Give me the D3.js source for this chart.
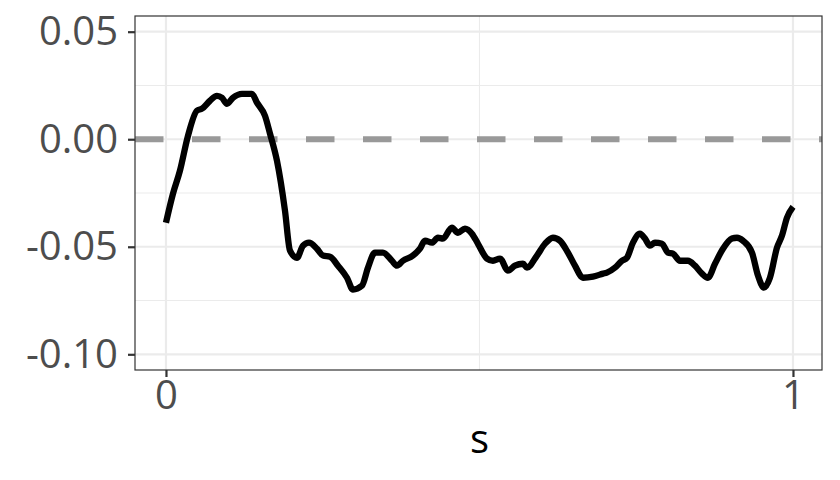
<!DOCTYPE html>
<html><head><meta charset="utf-8">
<script src="https://cdn.jsdelivr.net/npm/d3@7"></script>
<style>html,body{margin:0;padding:0;background:#fff;}</style>
</head><body>
<script>
const sValues = [0,0.0112,0.0223,0.0351,0.0494,0.0574,0.0702,0.0813,0.0893,0.0973,0.1069,0.1212,0.1372,0.1451,0.1579,0.1659,0.1770,0.1898,0.1978,0.2089,0.2185,0.2281,0.2408,0.2504,0.2616,0.2743,0.2887,0.2982,0.3126,0.3222,0.3333,0.3461,0.3604,0.3684,0.3780,0.3939,0.4051,0.4131,0.4242,0.4338,0.4418,0.4561,0.4657,0.4769,0.4880,0.4976,0.5120,0.5215,0.5327,0.5455,0.5566,0.5694,0.5758,0.5917,0.6045,0.6172,0.6284,0.6411,0.6523,0.6651,0.6810,0.6970,0.7033,0.7161,0.7273,0.7352,0.7448,0.7560,0.7640,0.7719,0.7799,0.7911,0.8006,0.8086,0.8198,0.8325,0.8437,0.8549,0.8644,0.8756,0.8884,0.9027,0.9107,0.9203,0.9346,0.9442,0.9537,0.9633,0.9745,0.9825,0.9904,1.0];
const effectValues = [-0.0388,-0.0253,-0.0146,0.0016,0.0133,0.0142,0.0179,0.0202,0.0193,0.0165,0.0193,0.0211,0.0211,0.0170,0.0109,0.0026,-0.0100,-0.0332,-0.0518,-0.0551,-0.0495,-0.0481,-0.0509,-0.0541,-0.0546,-0.0588,-0.0644,-0.0699,-0.0681,-0.0597,-0.0527,-0.0527,-0.0565,-0.0588,-0.0565,-0.0541,-0.0509,-0.0472,-0.0481,-0.0458,-0.0462,-0.0411,-0.0435,-0.0416,-0.0439,-0.0486,-0.0555,-0.0565,-0.0555,-0.0611,-0.0588,-0.0579,-0.0597,-0.0541,-0.0486,-0.0458,-0.0472,-0.0527,-0.0588,-0.0644,-0.0639,-0.0625,-0.0620,-0.0597,-0.0565,-0.0551,-0.0481,-0.0439,-0.0462,-0.0495,-0.0481,-0.0486,-0.0527,-0.0532,-0.0565,-0.0565,-0.0588,-0.0625,-0.0644,-0.0579,-0.0509,-0.0462,-0.0458,-0.0472,-0.0527,-0.0634,-0.0690,-0.0644,-0.0504,-0.0448,-0.0365,-0.0314];
const yTicks = [0.05, 0.00, -0.05, -0.10];
const yTickLabels = ["0.05", "0.00", "-0.05", "-0.10"];
const yMinor = [0.025, -0.025, -0.075];
const xTicks = [0, 1];
const xTickLabels = ["0", "1"];
const xMinor = [0.5];
const refLine = 0;
const xTitle = "s";

const W = 840, H = 480;
const P = {l: 135, r: 822, t: 16, b: 370};
const x = d3.scaleLinear().domain([-0.0494, 1.0463]).range([P.l, P.r]);
const y = d3.scaleLinear().domain([0.0573, -0.1073]).range([P.t, P.b]);

const svg = d3.select("body").append("svg").attr("width", W).attr("height", H);
svg.append("defs").append("clipPath").attr("id", "clip")
  .append("rect").attr("x", P.l).attr("y", P.t).attr("width", P.r - P.l).attr("height", P.b - P.t);

// minor grid
svg.selectAll(".ymin").data(yMinor).enter().append("line")
  .attr("x1", P.l).attr("x2", P.r).attr("y1", d => y(d)).attr("y2", d => y(d))
  .attr("stroke", "#EBEBEB").attr("stroke-width", 1.1);
svg.selectAll(".xmin").data(xMinor).enter().append("line")
  .attr("y1", P.t).attr("y2", P.b).attr("x1", d => x(d)).attr("x2", d => x(d))
  .attr("stroke", "#EBEBEB").attr("stroke-width", 1.1);
// major grid
svg.selectAll(".ymaj").data(yTicks).enter().append("line")
  .attr("x1", P.l).attr("x2", P.r).attr("y1", d => y(d)).attr("y2", d => y(d))
  .attr("stroke", "#EBEBEB").attr("stroke-width", 2.2);
svg.selectAll(".xmaj").data(xTicks).enter().append("line")
  .attr("y1", P.t).attr("y2", P.b).attr("x1", d => x(d)).attr("x2", d => x(d))
  .attr("stroke", "#EBEBEB").attr("stroke-width", 2.2);

const g = svg.append("g").attr("clip-path", "url(#clip)");
g.append("line")
  .attr("x1", P.l).attr("x2", P.r).attr("y1", y(refLine)).attr("y2", y(refLine))
  .attr("stroke", "#999999").attr("stroke-width", 6).attr("stroke-dasharray", "28.5,28.5");

const data = sValues.map((s, i) => ({s, v: effectValues[i]}));
g.append("path").datum(data)
  .attr("fill", "none").attr("stroke", "#000").attr("stroke-width", 6.3)
  .attr("stroke-linejoin", "round").attr("stroke-linecap", "butt")
  .attr("d", d3.line().curve(d3.curveMonotoneX).x(d => x(d.s)).y(d => y(d.v)));

svg.append("rect").attr("x", P.l).attr("y", P.t).attr("width", P.r - P.l).attr("height", P.b - P.t)
  .attr("fill", "none").attr("stroke", "#333333").attr("stroke-width", 1.2);

// axes
const yAxis = d3.axisLeft(y).tickValues(yTicks).tickSize(7).tickPadding(10)
  .tickFormat((d, i) => yTickLabels[i]);
const ya = svg.append("g").attr("transform", `translate(${P.l},0)`).call(yAxis);
const xAxis = d3.axisBottom(x).tickValues(xTicks).tickSize(7).tickPadding(4)
  .tickFormat((d, i) => xTickLabels[i]);
const xa = svg.append("g").attr("transform", `translate(0,${P.b})`).call(xAxis);
[ya, xa].forEach(a => {
  a.select(".domain").remove();
  a.selectAll(".tick line").attr("stroke", "#333333").attr("stroke-width", 2.2);
  a.selectAll(".tick text").attr("fill", "#4D4D4D")
    .style("font-family", "'Open Sans', sans-serif").style("font-size", "40px");
});

svg.append("text").attr("x", (x(0) + x(1)) / 2).attr("y", 453)
  .attr("text-anchor", "middle").attr("fill", "#000")
  .style("font-family", "'Open Sans', sans-serif").style("font-size", "40px")
  .text(xTitle);
</script>
</body></html>
